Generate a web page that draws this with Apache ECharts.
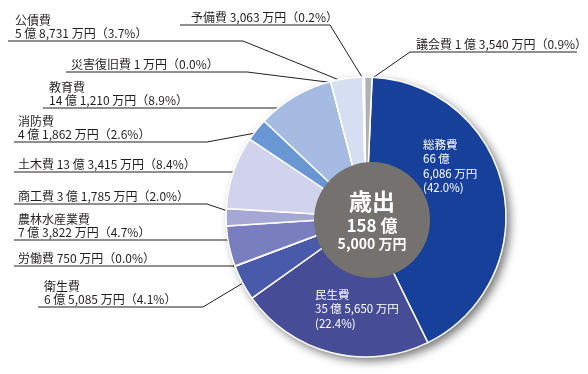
<!DOCTYPE html>
<html><head><meta charset="utf-8">
<script src="https://cdn.jsdelivr.net/npm/echarts@6/dist/echarts.min.js"></script>
<style>html,body{margin:0;padding:0;background:#fff}#c{width:588px;height:374px}</style>
</head><body><div id="c"></div>
<script>
// ---- data (万円) ----
const categories = ['総務費','民生費','衛生費','労働費','農林水産業費','商工費','土木費','消防費','教育費','災害復旧費','公債費','予備費','議会費'];
const values     = [666086, 355650, 65085, 750, 73822, 31785, 133415, 41862, 141210, 1, 58731, 3063, 13540];
const centerTitle = '歳出';

// ---- styles / layout ----
const colors = ['#17409a','#464c96','#4a5aab','#5d68b5','#787ebe','#a5a7d4','#d1d2eb','#6897d3','#a5bbe2','#c0cde8','#d6dff1','#eeeff2','#b1b1b1'];
const PIE_C = [366, 217], PIE_R = 140;
const FONT = '"Noto Sans CJK JP","Noto Sans",sans-serif';
const placement = {
  '公債費':     {two:true, lx:8,   tx:15,  uy:41,  bx:243, rd:135},
  '災害復旧費': {lx:66,  tx:71,  uy:72,  bx:247, rd:139},
  '教育費':     {two:true, lx:43,  tx:49,  uy:108, straight:true, rd:134},
  '予備費':     {lx:180, tx:191, uy:25,  bx:330, rd:137},
  '議会費':     {lx:577, tx:416, uy:52,  bx:410, rd:136},
  '消防費':     {two:true, lx:14, tx:18, uy:142, bx:207, rd:136},
  '土木費':     {lx:14, tx:18, uy:172, straight:true, rd:135},
  '商工費':     {lx:14, tx:18, uy:204, bx:207, rd:120},
  '農林水産業費': {two:true, lx:14, tx:18, uy:240, straight:true, rd:124},
  '労働費':     {lx:14, tx:18, uy:266, straight:true, rd:140},
  '衛生費':     {two:true, lx:38, tx:44, uy:307, bx:203, rd:131},
  '総務費':     {inside:true, x:423, y:137},
  '民生費':     {inside:true, x:315, y:287}
};

const total = values.reduce((a,b)=>a+b,0);
function manStr(m){ return m.toLocaleString('en-US'); }
function fmt(v, breakOku){
  const oku = Math.floor(v/10000), man = v % 10000;
  if (!oku) return manStr(man) + ' 万円';
  return oku + ' 億' + (breakOku ? '\n' : ' ') + manStr(man) + ' 万円';
}
function pct(v){ return (v/total*100).toFixed(1); }

const chart = echarts.init(document.getElementById('c'), null, {renderer:'canvas'});
const data = categories.map((n,i)=>{
  const p = placement[n];
  const item = {name:n, value:values[i], itemStyle:{color:colors[i]}};
  if (p && p.inside) item.label = {position:'inside', color:'#fff', lineHeight:14.6, fontSize:11.5};
  return item;
});

chart.setOption({
  backgroundColor:'#fff',
  animation:false,
  series:[
    { // backing disc for the drop shadow
      type:'pie', silent:true, center:PIE_C, radius:PIE_R, label:{show:false}, labelLine:{show:false},
      data:[{value:total, itemStyle:{color:'#fff', shadowBlur:10, shadowOffsetX:4, shadowOffsetY:4, shadowColor:'rgba(0,0,0,0.55)'}}],
      z:1
    },
    {
      type:'pie', center:PIE_C, radius:PIE_R, startAngle:87.5, clockwise:true,
      avoidLabelOverlap:false, minShowLabelAngle:0, z:2,
      itemStyle:{borderColor:'#fff', borderWidth:1.5},
      label:{
        show:true, position:'outside', fontFamily:FONT, fontSize:12, color:'#231f20', lineHeight:13,
        formatter:(p)=>{
          const pl = placement[p.name];
          if (pl.inside) {
            return p.name + '\n' + fmt(p.value, p.name === '総務費') + '\n(' + pct(p.value) + '%)';
          }
          return p.name + (pl.two ? '\n' : ' ') + fmt(p.value) + '（' + pct(p.value) + '%）';
        }
      },
      labelLine:{show:true, length:10, length2:10, smooth:false, lineStyle:{color:'#231f20', width:1}},
      labelLayout:(params)=>{
        if (params.seriesIndex !== 1) return {};
        const pl = placement[categories[params.dataIndex]];
        if (!pl) return {};
        if (pl.inside) return {x:pl.x, y:pl.y, align:'left', verticalAlign:'top'};
        const pts = params.labelLinePoints;
        if (!pts) return {x:pl.tx, y:pl.uy-2, align:'left', verticalAlign:'bottom'};
        let nx = pts[1][0]-pts[0][0], ny = pts[1][1]-pts[0][1];
        const L = Math.hypot(nx,ny) || 1; nx/=L; ny/=L;
        const cx = pts[0][0]-nx*PIE_R, cy = pts[0][1]-ny*PIE_R;
        const rd = pl.rd || 133;
        let d;
        if (pl.straight) { const dy = pl.uy-cy; d = [cx - Math.sqrt(Math.max(0, rd*rd-dy*dy)), pl.uy]; }
        else d = [cx+nx*rd, cy+ny*rd];
        const blob = [[d[0]-1,d[1]-1],[d[0]+1,d[1]-1],[d[0]+1,d[1]+1],[d[0]-1,d[1]+1],[d[0]-1,d[1]-1],d];
        const line = blob.concat(pl.bx != null ? [[pl.bx,pl.uy],[pl.lx,pl.uy]] : [[pl.lx,pl.uy]]);
        return {x:pl.tx, y:pl.uy-1, align:'left', verticalAlign:'bottom', labelLinePoints:line};
      },
      data:data
    },
    { // centre total
      type:'pie', silent:true, center:[372,220], radius:58, z:3,
      label:{
        show:true, position:'center', fontFamily:FONT, color:'#fff',
        formatter:()=>'{a|'+centerTitle+'}\n{b|'+Math.floor(total/10000)+' 億}\n{c|'+manStr(total%10000)+' 万円}',
        rich:{
          a:{fontSize:23, fontWeight:'bold', lineHeight:27, color:'#fff', fontFamily:FONT},
          b:{fontSize:17, fontWeight:'bold', lineHeight:21, color:'#fff', fontFamily:FONT},
          c:{fontSize:14, fontWeight:'bold', lineHeight:16, color:'#fff', fontFamily:FONT}
        }
      },
      labelLine:{show:false},
      data:[{name:centerTitle, value:total, itemStyle:{color:'#75716f'}}]
    }
  ]
});
</script></body></html>
